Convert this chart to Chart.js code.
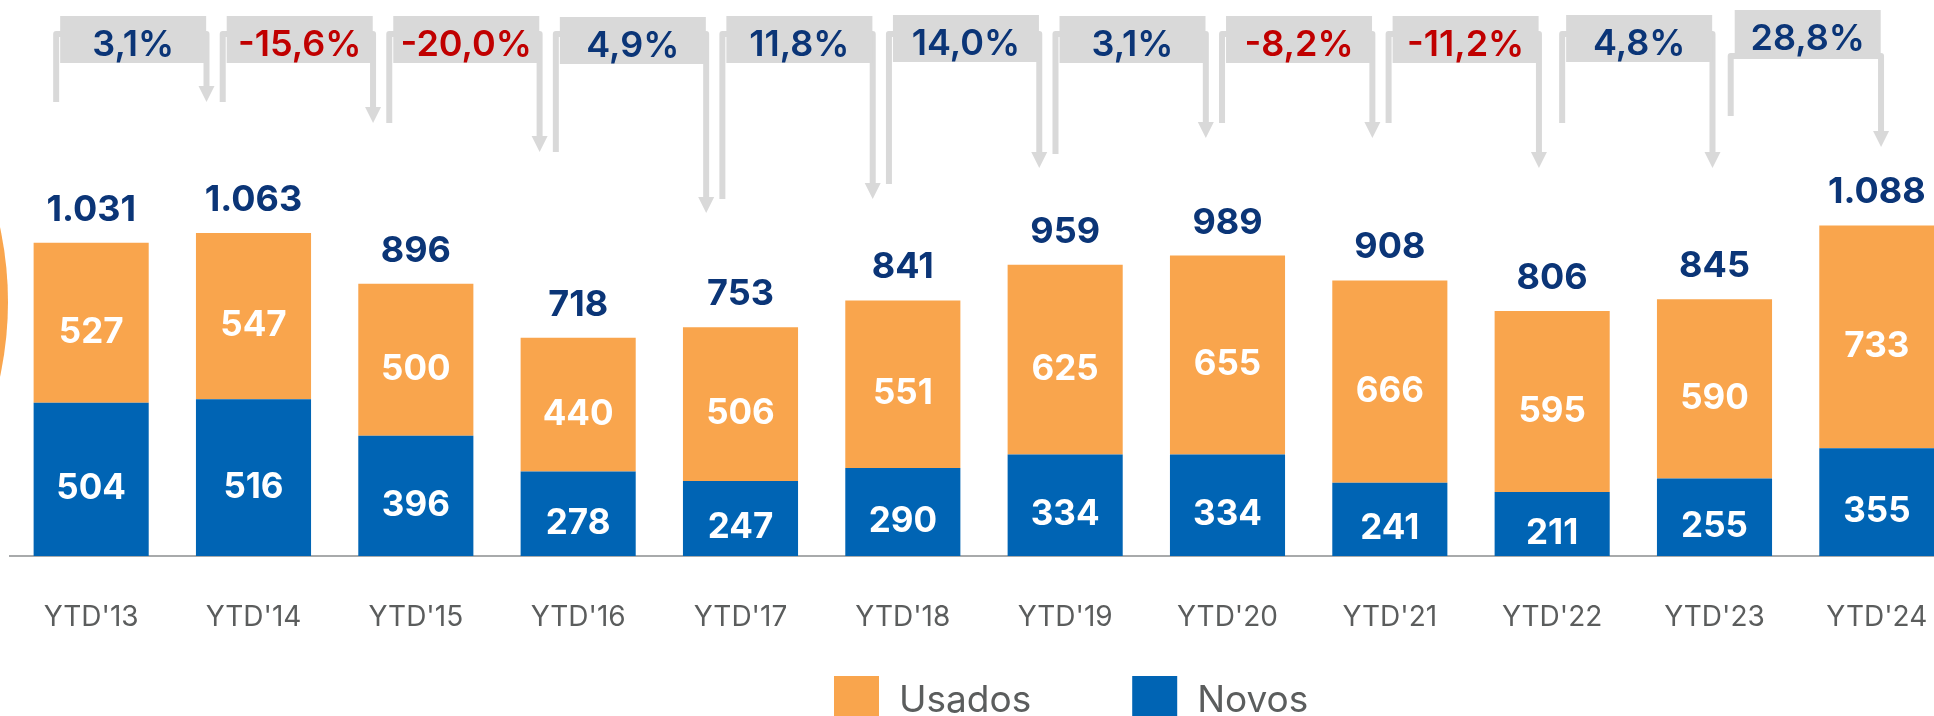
<!DOCTYPE html>
<html>
<head>
<meta charset="utf-8">
<script src="https://cdn.jsdelivr.net/npm/chart.js@4.4.1/dist/chart.umd.min.js"></script>
<style>
html, body { margin: 0; padding: 0; background: #ffffff; overflow: hidden; width: 1934px; height: 716px; }
#wrap { position: relative; width: 1960px; height: 716px; }
canvas { display: block; }
</style>
</head>
<body>
<div id="wrap"><canvas id="c" width="1960" height="716"></canvas></div>
<script>
// ---- data ----
const categories = ["YTD'13", "YTD'14", "YTD'15", "YTD'16", "YTD'17", "YTD'18", "YTD'19", "YTD'20", "YTD'21", "YTD'22", "YTD'23", "YTD'24"];
const novos  = [504, 516, 396, 278, 247, 290, 334, 334, 241, 211, 255, 355];
const usados = [527, 547, 500, 440, 506, 551, 625, 655, 666, 595, 590, 733];
const totals = [1031, 1063, 896, 718, 753, 841, 959, 989, 908, 806, 845, 1088];
const changes = [3.1, -15.6, -20.0, 4.9, 11.8, 14.0, 3.1, -8.2, -11.2, 4.8, 28.8];
const seriesNames = ["Novos", "Usados"];

// ---- styles ----
const FONT = "Inter, 'Open Sans', 'DejaVu Sans', sans-serif";
const ORANGE = '#F9A54D';
const BLUE = '#0064B4';
const NAVY = '#0B3577';
const RED = '#C00000';
const GREY_BOX = '#D9D9D9';
const AXIS_TEXT = '#5B5D5D';

const fmtInt = v => String(v).replace(/\B(?=(\d{3})+(?!\d))/g, '.');
const fmtPct = v => v.toFixed(1).replace('.', ',') + '%';

const decor = {
  id: 'decor',
  beforeDraw(chart) {
    const ctx = chart.ctx;
    ctx.save();
    ctx.fillStyle = ORANGE;
    ctx.beginPath();
    ctx.arc(-347, 302, 355, 0, Math.PI * 2);
    ctx.fill();
    ctx.restore();
  },
  afterDatasetsDraw(chart, args, o) {
    const ctx = chart.ctx;
    const xs = chart.scales.x;
    const metaN = chart.getDatasetMeta(0);
    const metaU = chart.getDatasetMeta(1);
    ctx.save();
    ctx.textAlign = 'center';
    ctx.textBaseline = 'alphabetic';

    // values inside segments
    ctx.fillStyle = '#FFFFFF';
    ctx.font = `700 35px ${FONT}`;
    [metaN, metaU].forEach((m, di) => {
      m.data.forEach((bar, i) => {
        const mid = (bar.y + bar.base) / 2;
        ctx.fillText(String(chart.data.datasets[di].data[i]), bar.x, mid + 20);
      });
    });

    // totals above bars
    ctx.fillStyle = NAVY;
    ctx.font = `700 36px ${FONT}`;
    metaU.data.forEach((bar, i) => {
      ctx.fillText(fmtInt(totals[i]), bar.x, bar.y - 22);
    });

    // change brackets
    const step = xs.getPixelForValue(1) - xs.getPixelForValue(0);
    const drift = step * 0.026;
    changes.forEach((c, i) => {
      const nudge = o.xNudge[i];
      const legX = xs.getPixelForValue(i) - 35 + drift * i + nudge;
      const arrowX = xs.getPixelForValue(i + 1) - 47 + drift * i + nudge;
      const lineY = o.lineY[i];
      const legBottom = o.legBottom[i];
      const tipY = o.tipY[i];
      const boxTop = o.boxTop[i];

      ctx.strokeStyle = GREY_BOX;
      ctx.fillStyle = GREY_BOX;
      ctx.lineWidth = 6;
      ctx.lineJoin = 'round';
      ctx.beginPath();
      ctx.moveTo(legX, legBottom);
      ctx.lineTo(legX, lineY);
      ctx.lineTo(arrowX, lineY);
      ctx.lineTo(arrowX, tipY - 14);
      ctx.stroke();

      ctx.beginPath();
      ctx.moveTo(arrowX - 8, tipY - 16);
      ctx.lineTo(arrowX + 8, tipY - 16);
      ctx.lineTo(arrowX, tipY);
      ctx.closePath();
      ctx.fill();

      const bx = legX + 4;
      const bw = 146;
      ctx.fillRect(bx, boxTop, bw, 47);

      ctx.fillStyle = c < 0 ? RED : NAVY;
      ctx.font = `600 36px ${FONT}`;
      ctx.fillText(fmtPct(c), bx + bw / 2, boxTop + 40);
    });
    ctx.restore();
  },
  afterDraw(chart, args, o) {
    // legend
    const ctx = chart.ctx;
    ctx.save();
    ctx.font = `400 37px ${FONT}`;
    ctx.textAlign = 'left';
    ctx.textBaseline = 'alphabetic';
    let x = chart.width / 2 - 146;
    const top = chart.height - 40;
    o.legendOrder.forEach((di) => {
      const ds = chart.data.datasets[di];
      ctx.fillStyle = ds.backgroundColor;
      ctx.fillRect(x, top, 45, 40);
      x += 45 + 20;
      ctx.fillStyle = AXIS_TEXT;
      ctx.fillText(ds.label, x, chart.height - 4);
      x += ctx.measureText(ds.label).width + 101;
    });
    ctx.restore();
  }
};

new Chart(document.getElementById('c'), {
  type: 'bar',
  data: {
    labels: categories,
    datasets: [
      { label: seriesNames[0], data: novos, backgroundColor: BLUE, borderWidth: 0 },
      { label: seriesNames[1], data: usados, backgroundColor: ORANGE, borderWidth: 0 }
    ]
  },
  options: {
    responsive: false,
    animation: false,
    devicePixelRatio: 1,
    categoryPercentage: 0.709,
    barPercentage: 1,
    layout: { padding: { left: 10, right: 2, top: 0, bottom: 0 } },
    plugins: {
      legend: { display: false },
      tooltip: { enabled: false },
      decor: {
        legBottom: [102, 102, 123, 152, 199, 184, 154, 123, 123, 123, 116],
        tipY:      [102, 123, 152, 213, 199, 168, 138, 138, 168, 168, 147],
        lineY:     [34, 34, 34, 34, 34, 34, 34, 34, 34, 34, 56],
        boxTop:    [16, 16, 16, 17, 16, 15, 16, 16, 16, 15, 10],
        xNudge:    [0, 0, 0, 0, 0, 0, 0, 0, 0, 7, 9],
        legendOrder: [1, 0]
      }
    },
    scales: {
      x: {
        stacked: true,
        grid: { display: false, drawTicks: true, tickLength: 42 },
        border: { display: true, color: '#A8AAAB', width: 2 },
        ticks: { color: AXIS_TEXT, font: { family: FONT, size: 28, weight: 400 }, padding: 3 },
        afterFit(scale) { scale.height = 160; }
      },
      y: {
        stacked: true,
        display: false,
        min: 0,
        max: 1830
      }
    }
  },
  plugins: [decor]
});
</script>
</body>
</html>
